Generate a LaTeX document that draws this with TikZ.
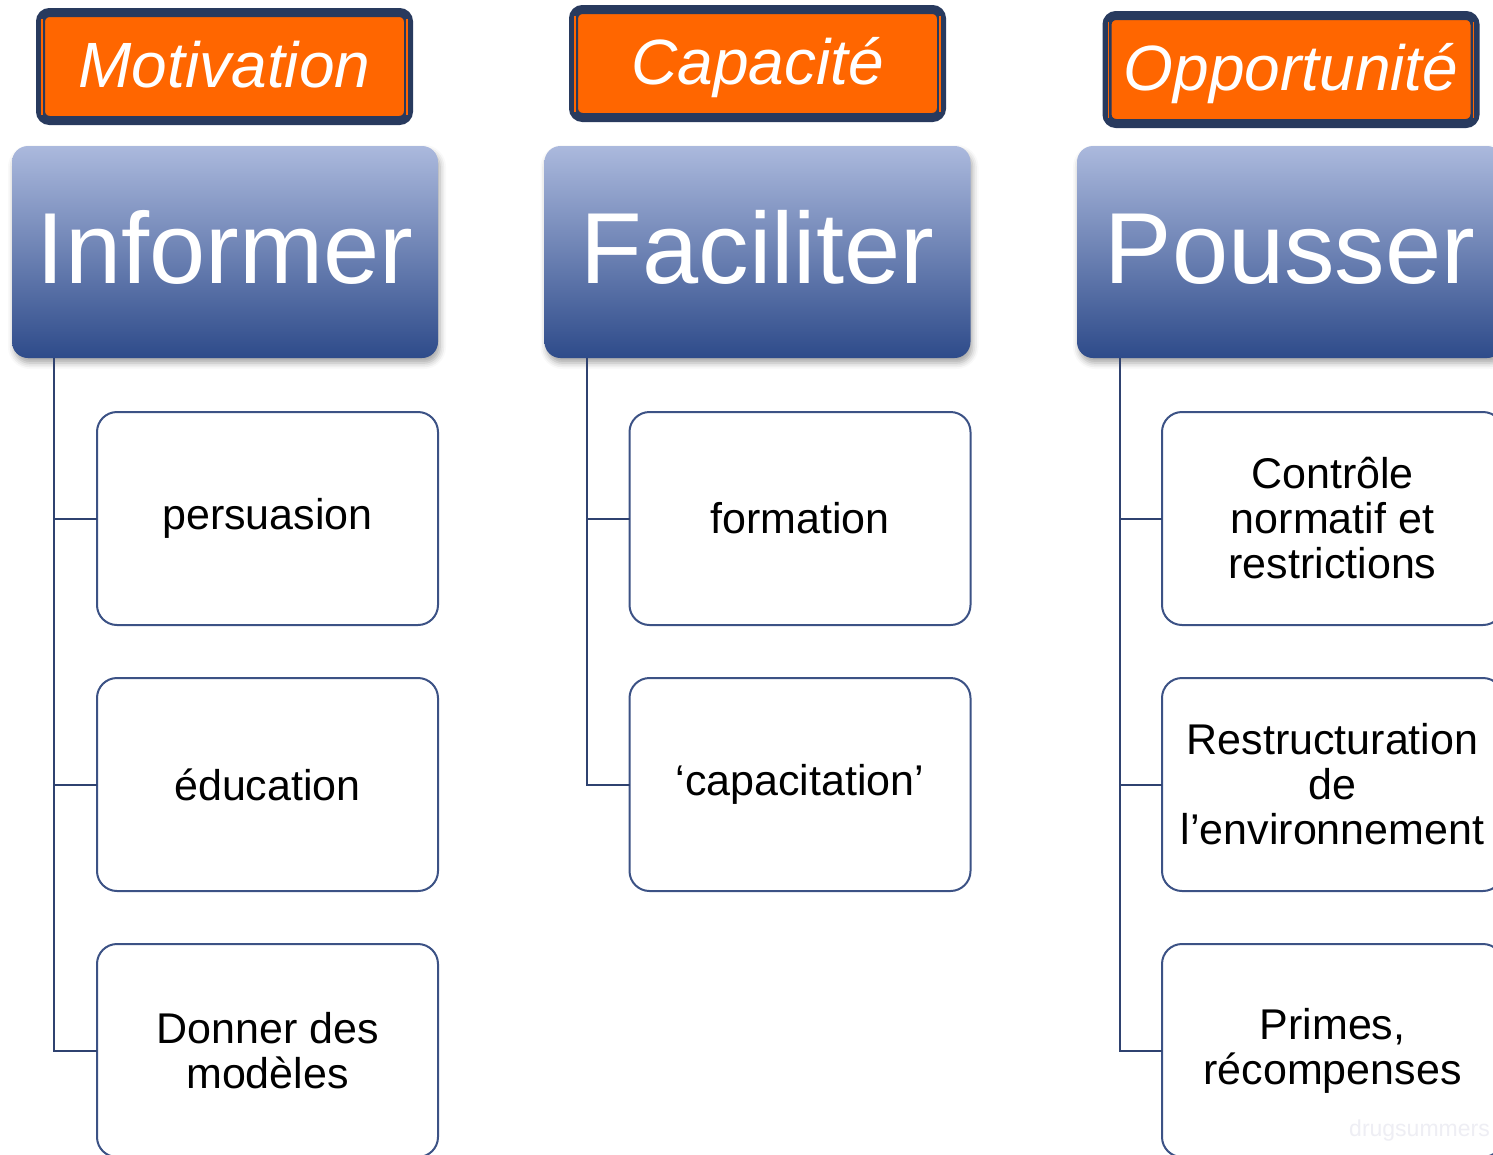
\documentclass[tikz,border=0pt]{standalone}
\usepackage{fontspec}
\setmainfont{Liberation Sans}
\usetikzlibrary{shadows.blur,calc}
\definecolor{orangec}{HTML}{FF6600}
\definecolor{navyc}{HTML}{283A5E}
\definecolor{gradtop}{HTML}{ABB9DD}
\definecolor{gradmid}{HTML}{8692BD}
\definecolor{gradbot}{HTML}{2E4B8A}
\definecolor{itemc}{HTML}{3C5285}
\definecolor{connc}{HTML}{2F4270}
\definecolor{wmark}{HTML}{EEEEF4}
\begin{document}
\begin{tikzpicture}[x=1pt,y=-1pt,
  tagbox/.style={draw=navyc, line width=9pt, fill=orangec, rounded corners=9pt, outer sep=0pt, inner sep=0pt,
    minimum width=368pt, minimum height=108pt, text=white,
    font=\fontsize{64}{70}\selectfont\itshape, text height=46pt, text depth=4pt},
  headbox/.style={rounded corners=16pt, top color=gradtop, middle color=gradmid, bottom color=gradbot,
    minimum width=426pt, minimum height=212pt, inner sep=0pt, outer sep=0pt, text=white,
    font=\fontsize{101}{110}\selectfont, text height=72pt, text depth=10pt,
    blur shadow={shadow xshift=2pt, shadow yshift=-5pt, shadow blur radius=6pt, shadow opacity=35}},
  itembox/.style={draw=itemc, line width=2pt, fill=white, rounded corners=20pt, outer sep=0pt,
    minimum width=341pt, minimum height=213pt, align=center, inner sep=0pt,
    font=\fontsize{43}{45}\selectfont},
  conn/.style={draw=connc, line width=2pt},
  thinor/.style={draw=orangec, line width=1.5pt}
]
\useasboundingbox (0,0) rectangle (1493,1154);
\clip (0,0) rectangle (1493,1154);

% orange tags
\node[tagbox] (mot) at (224.5,66.5) {Motivation};
\node[tagbox] (cap) at (757.5,63.5) {Capacité};
\node[tagbox] (opp) at (1291,69.5) {Opportunité};
\foreach \n in {mot,cap,opp}{
  \draw[thinor] ($(\n.north west)+(1.5,6)$) -- ($(\n.south west)+(1.5,-6)$);
  \draw[thinor] ($(\n.north east)+(-1.5,6)$) -- ($(\n.south east)+(-1.5,-6)$);
}

% headers
\node[headbox] (inf) at (225,252) {Informer};
\node[headbox] (fac) at (757.5,252) {Faciliter};
\node[headbox] (pou) at (1290,252) {Pousser};

% items
\node[itembox] (i11) at (267.5,518.5) {persuasion};
\node[itembox] (i12) at (267.5,784.5) {éducation};
\node[itembox] (i13) at (267.5,1050.5) {Donner des\\modèles};
\node[itembox] (i21) at (800,518.5) {formation};
\node[itembox] (i22) at (800,784.5) {‘capacitation’};
\node[itembox] (i31) at (1332.5,518.5) {Contrôle\\normatif et\\restrictions};
\node[itembox] (i32) at (1332.5,784.5) {Restructuration\\de\\l’environnement};
\node[itembox] (i33) at (1332.5,1050.5) {Primes,\\récompenses};

% connectors
\coordinate (t1) at ($(inf.south west)+(42,0)$);
\coordinate (t2) at ($(fac.south west)+(42,0)$);
\coordinate (t3) at ($(pou.south west)+(43,0)$);
\draw[conn] (t1) |- (i13.west);
\draw[conn] (i11.west) -- (i11.west -| t1);
\draw[conn] (i12.west) -- (i12.west -| t1);
\draw[conn] (t2) |- (i22.west);
\draw[conn] (i21.west) -- (i21.west -| t2);
\draw[conn] (t3) |- (i33.west);
\draw[conn] (i31.west) -- (i31.west -| t3);
\draw[conn] (i32.west) -- (i32.west -| t3);

% watermark
\node[anchor=west, text=wmark, inner sep=0pt, font=\fontsize{23}{25}\selectfont] (wm) at (1349,1131) {drugsummers};
\end{tikzpicture}
\end{document}
